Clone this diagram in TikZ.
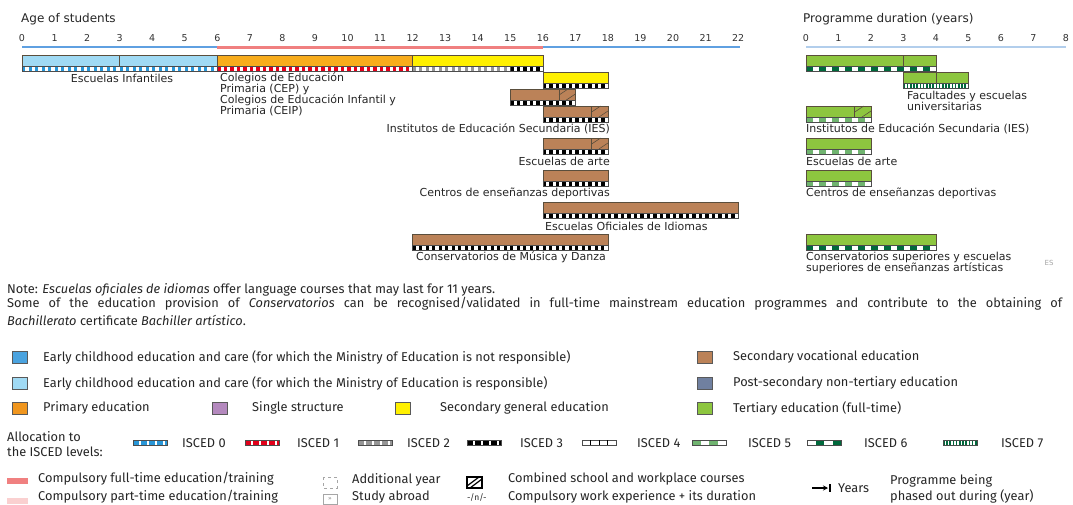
\documentclass[tikz,border=0pt]{standalone}
\usepackage{fontspec}
\setmainfont{DejaVu Sans}
\newfontfamily\legfont{Fira Sans}
\usetikzlibrary{arrows.meta}
\definecolor{ecLight}{RGB}{160,218,244}
\definecolor{ecDark}{RGB}{74,163,223}
\definecolor{prim}{RGB}{248,172,28}
\definecolor{primsq}{RGB}{240,150,30}
\definecolor{secgen}{RGB}{255,240,0}
\definecolor{secvoc}{RGB}{187,130,88}
\definecolor{postsec}{RGB}{112,128,160}
\definecolor{single}{RGB}{180,137,190}
\definecolor{tert}{RGB}{141,198,63}
\definecolor{compft}{RGB}{240,128,128}
\definecolor{comppt}{RGB}{250,208,208}
\definecolor{axisblue}{RGB}{95,160,225}
\definecolor{axislight}{RGB}{178,206,236}
\definecolor{isA}{RGB}{40,150,215}
\definecolor{isB}{RGB}{226,0,26}
\definecolor{isC}{RGB}{150,150,150}
\definecolor{isE}{RGB}{112,180,112}
\definecolor{isF}{RGB}{0,105,60}
\definecolor{barline}{RGB}{90,78,60}
\tikzset{
  barbox/.style={draw=barline, line width=0.6pt},
  stripframe/.style={draw=gray!60!black, line width=0.4pt},
  lbl/.style={font=\fontsize{11}{11.3}\selectfont, inner sep=0pt, text=black!85},
  tick/.style={font=\fontsize{9.5}{10}\selectfont, inner sep=0pt, text=black!80},
  head/.style={font=\fontsize{12}{13}\selectfont, inner sep=0pt, anchor=west, text=black!85},
  leg/.style={font=\legfont\fontsize{12.8}{14}\selectfont, inner sep=0pt, anchor=west, text=black!85},
  legsq/.style={draw=gray!70!black, line width=0.6pt},
}
\newcommand\edbar[4]{\filldraw[barbox, fill=#4] (#1,#3) rectangle (#2,#3+11);}
\newcommand\edhatch[4]{%
  \filldraw[barbox, fill=#4] (#1,#3) rectangle (#2,#3+11);
  \draw[barline, line width=0.6pt] (#1,#3+6) -- ({#1+0.55*(#2-#1)},#3);
  \draw[barline, line width=0.6pt] ({#1+0.45*(#2-#1)},#3+11) -- (#2,#3+5);}
\newcommand\edstrip[6]{%
  \fill[white] (#1,#3) rectangle (#2,#3+5);
  \draw[#4, line width=5pt, dash pattern=on #5 off #6] (#1,#3+2.5) -- (#2,#3+2.5);
  \draw[stripframe] (#1,#3) rectangle (#2,#3+5);}
\begin{document}
\begin{tikzpicture}[x=1pt, y=-1pt]
\useasboundingbox (0,0) rectangle (1073,504);
\fill[white] (0,0) rectangle (1073,504);

% ---------- headers ----------
\node[head] (hage) at (21,19) {Age of students};
\node[head] (hdur) at (803,19) {Programme duration (years)};

% ---------- left chart ----------
\begin{scope}[xshift=22pt, x=32.55pt]
  \foreach \i in {0,...,22} \node[tick] (tl\i) at (\i,38) {\i};
  \draw[axisblue, line width=1.2pt] (0,47) -- (6,47);
  \draw[axisblue, line width=1.2pt] (16,47) -- (22.05,47);
  \draw[compft, line width=3pt] (6,47) -- (16,47);
  % row 1
  \edbar{0}{6}{55}{ecLight}
  \draw[barline, line width=0.6pt] (3,55) -- (3,66);
  \edbar{6}{12}{55}{prim}
  \edbar{12}{16}{55}{secgen}
  \edstrip{0}{6}{66}{isA}{3.25pt}{3.25pt}
  \edstrip{6}{12}{66}{isB}{3.25pt}{3.25pt}
  \edstrip{12}{15}{66}{isC}{3.25pt}{3.25pt}
  \edstrip{15}{16}{66}{black}{3.25pt}{3.25pt}
  % row 2
  \edbar{16}{18}{72}{secgen}
  \edstrip{16}{18}{83}{black}{3.25pt}{3.25pt}
  % row 3
  \edbar{15}{16.5}{89}{secvoc}
  \edhatch{16.5}{17}{89}{secvoc}
  \edstrip{15}{17}{100}{black}{3.25pt}{3.25pt}
  % row 4
  \edbar{16}{17.5}{106}{secvoc}
  \edhatch{17.5}{18}{106}{secvoc}
  \edstrip{16}{18}{117}{black}{3.25pt}{3.25pt}
  % row 5
  \edbar{16}{17.5}{138}{secvoc}
  \edhatch{17.5}{18}{138}{secvoc}
  \edstrip{16}{18}{149}{black}{3.25pt}{3.25pt}
  % row 6
  \edbar{16}{18}{170}{secvoc}
  \edstrip{16}{18}{181}{black}{3.25pt}{3.25pt}
  % row 7
  \edbar{16}{22}{202}{secvoc}
  \edstrip{16}{22}{213}{black}{3.25pt}{3.25pt}
  % row 8
  \edbar{12}{18}{234}{secvoc}
  \edstrip{12}{18}{245}{black}{3.25pt}{3.25pt}
\end{scope}

\node[lbl] (lei) at (122,78) {Escuelas Infantiles};
\node[lbl, anchor=north west, align=left] (lcol) at (220,72)
  {Colegios de Educación\\Primaria (CEP) y\\Colegios de Educación Infantil y\\Primaria (CEIP)};
\node[lbl, anchor=east] (lies) at (610,129) {Institutos de Educación Secundaria (IES)};
\node[lbl, anchor=east] (lart) at (610,161) {Escuelas de arte};
\node[lbl, anchor=east] (ldep) at (610,193) {Centros de enseñanzas deportivas};
\node[lbl, anchor=west] (leoi) at (545,226) {Escuelas Oficiales de Idiomas};
\node[lbl] (lcon) at (511,257) {Conservatorios de Música y Danza};

% ---------- right chart ----------
\begin{scope}[xshift=806pt, x=32.5pt]
  \foreach \i in {0,...,8} \node[tick] (tr\i) at (\i,38) {\i};
  \draw[axislight, line width=1.5pt] (0,47) -- (8,47);
  \edbar{0}{4}{55}{tert}
  \draw[barline, line width=0.6pt] (3,55) -- (3,66);
  \edstrip{0}{4}{66}{isF}{6.5pt}{6.5pt}
  \edbar{3}{5}{72}{tert}
  \draw[barline, line width=0.6pt] (4,72) -- (4,83);
  \edstrip{3}{5}{83}{isF}{1.6pt}{1.6pt}
  \edbar{0}{1.5}{106}{tert}
  \edhatch{1.5}{2}{106}{tert}
  \edstrip{0}{2}{117}{isE}{6.5pt}{6.5pt}
  \edbar{0}{2}{138}{tert}
  \edstrip{0}{2}{149}{isE}{6.5pt}{6.5pt}
  \edbar{0}{2}{170}{tert}
  \edstrip{0}{2}{181}{isE}{6.5pt}{6.5pt}
  \edbar{0}{4}{234}{tert}
  \edstrip{0}{4}{245}{isF}{6.5pt}{6.5pt}
\end{scope}

\node[lbl, anchor=north west, align=left] (rfac) at (907,91) {Facultades y escuelas\\universitarias};
\node[lbl, anchor=west] (ries) at (806,129) {Institutos de Educación Secundaria (IES)};
\node[lbl, anchor=west] (rart) at (806,161) {Escuelas de arte};
\node[lbl, anchor=west] (rdep) at (806,193) {Centros de enseñanzas deportivas};
\node[lbl, anchor=north west, align=left] (rcon) at (806,252)
  {Conservatorios superiores y escuelas\\superiores de enseñanzas artísticas};
\node[font=\fontsize{7}{8}\selectfont, text=gray!70, inner sep=0pt] (res) at (1049,263) {ES};

% ---------- note ----------
\node[leg] (n1) at (7,290) {Note: \textit{Escuelas oficiales de idiomas} offer language courses that may last for 11 years.};
\node[leg] (n2) at (7,304) {\makebox[1055pt][s]{Some of the education provision of \textit{Conservatorios} can be recognised/validated in full-time mainstream education programmes and contribute to the obtaining of}};
\node[leg] (n3) at (7,320) {\textit{Bachillerato} certificate \textit{Bachiller artístico}.};

% ---------- legend ----------
\filldraw[legsq, fill=ecDark] (12,351) rectangle (27,363);
\node[leg] (k1) at (43,357) {Early childhood education and care (for which the Ministry of Education is not responsible)};
\filldraw[legsq, fill=ecLight] (12,377) rectangle (27,389);
\node[leg] (k2) at (43,383) {Early childhood education and care (for which the Ministry of Education is responsible)};
\filldraw[legsq, fill=primsq] (12,402) rectangle (27,414);
\node[leg] (k3) at (43,408) {Primary education};
\filldraw[legsq, fill=single] (212,402) rectangle (227,414);
\node[leg] (k4) at (252,408) {Single structure};
\filldraw[legsq, fill=secgen] (395,402) rectangle (410,414);
\node[leg] (k5) at (440,408) {Secondary general education};
\filldraw[legsq, fill=secvoc] (697,351) rectangle (712,363);
\node[leg] (k6) at (733,357) {Secondary vocational education};
\filldraw[legsq, fill=postsec] (697,377) rectangle (712,389);
\node[leg] (k7) at (733,383) {Post-secondary non-tertiary education};
\filldraw[legsq, fill=tert] (697,402) rectangle (712,414);
\node[leg] (k8) at (733,408) {Tertiary education (full-time)};

% ---------- ISCED allocation ----------
\node[leg, align=left, anchor=north west, font=\legfont\fontsize{12.8}{15}\selectfont] (alloc) at (7,431) {Allocation to\\the ISCED levels:};
\edstrip{133}{167}{440}{isA}{5.5pt}{2.5pt}
\node[leg] (i0) at (182,443) {ISCED 0};
\edstrip{245}{279}{440}{isB}{5.5pt}{2.5pt}
\node[leg] (i1) at (297,443) {ISCED 1};
\edstrip{358}{392}{440}{isC}{5.5pt}{2.5pt}
\node[leg] (i2) at (407,443) {ISCED 2};
\edstrip{467}{501}{440}{black}{5.5pt}{2.5pt}
\node[leg] (i3) at (520,443) {ISCED 3};
\draw[stripframe, fill=white] (582,440) rectangle (616,445);
\foreach \k in {590.5,599,607.5} \draw[black, line width=0.8pt] (\k,440) -- (\k,445);
\node[leg] (i4) at (637,443) {ISCED 4};
\edstrip{692}{726}{440}{isE}{8.5pt}{8.5pt}
\node[leg] (i5) at (748,443) {ISCED 5};
\fill[white] (807,440) rectangle (841,445);
\draw[isF, line width=5pt, dash pattern=on 8.5pt off 8.5pt, dash phase=8.5pt] (807,442.5) -- (841,442.5);
\draw[stripframe] (807,440) rectangle (841,445);
\node[leg] (i6) at (864,443) {ISCED 6};
\edstrip{943}{977}{440}{isF}{1.6pt}{1.6pt}
\node[leg] (i7) at (1001,443) {ISCED 7};

% ---------- bottom legend ----------
\fill[compft] (7,478) rectangle (28,484);
\node[leg] (c1) at (38,479) {Compulsory full-time education/training};
\fill[comppt] (7,498) rectangle (28,504);
\node[leg] (c2) at (38,497) {Compulsory part-time education/training};
\draw[gray!70, dashed, line width=0.5pt] (323,477) rectangle (337,488);
\node[leg] (a1) at (352,480) {Additional year};
\draw[gray!70, line width=0.5pt] (323,494) rectangle (337,504);
\node[font=\fontsize{6}{6}\selectfont, text=gray, inner sep=0pt] (sa) at (330,499) {>>};
\node[leg] (a2) at (352,497) {Study abroad};
\draw[black, line width=1.2pt] (467,477) rectangle (482,488);
\draw[black, line width=1.2pt] (467,486) -- (479,477);
\draw[black, line width=1.2pt] (470,488) -- (482,479);
\node[leg] (b1) at (508,479) {Combined school and workplace courses};
\node[leg, font=\legfont\fontsize{8.5}{9}\selectfont] (b0) at (467,498) {-/n/-};
\node[leg] (b2) at (508,497) {Compulsory work experience + its duration};
\coordinate (ya) at (812,488);
\coordinate (yb) at (828,488);
\draw[black, line width=1.1pt, -{Stealth[length=5pt,width=5pt]}] (ya) -- (yb);
\draw[black, line width=1.3pt] (830,484) -- (830,492);
\node[leg] (yy) at (838,488) {Years};
\node[leg, align=left, anchor=north west, font=\legfont\fontsize{12.8}{16}\selectfont] (ph) at (890,474) {Programme being\\phased out during (year)};
\end{tikzpicture}
\end{document}
